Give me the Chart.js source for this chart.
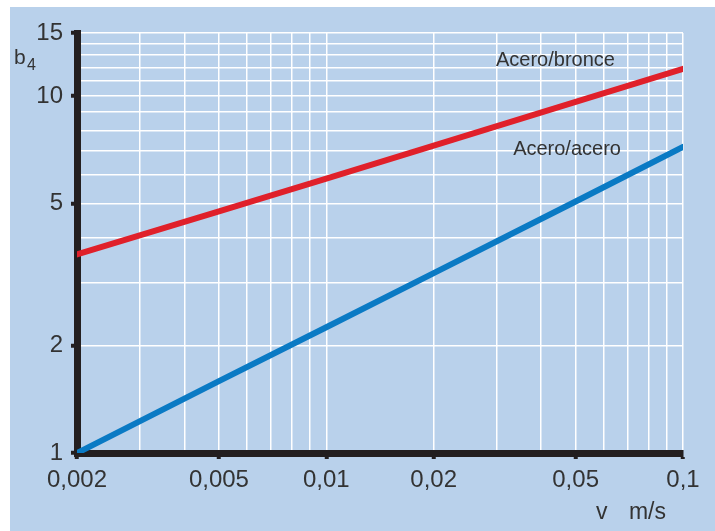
<!DOCTYPE html>
<html>
<head>
<meta charset="utf-8">
<script src="https://cdn.jsdelivr.net/npm/chart.js@4/dist/chart.umd.min.js"></script>
<style>
  html, body { margin: 0; padding: 0; background: #fff; }
  #wrap { width: 715px; height: 531px; }
</style>
</head>
<body>
<div id="wrap"><canvas id="chart" width="715" height="531"></canvas></div>
<script>
// b4 factor vs sliding speed, log-log
const speeds = [0.002, 0.005, 0.01, 0.02, 0.05, 0.1];
const aceroBronce = [3.6, 4.75, 5.87, 7.26, 9.62, 11.9];
const aceroAcero = [1.0, 1.59, 2.25, 3.19, 5.06, 7.2];

const xGrid = [0.002, 0.003, 0.004, 0.005, 0.006, 0.007, 0.008, 0.009, 0.01,
               0.02, 0.03, 0.04, 0.05, 0.06, 0.07, 0.08, 0.09, 0.1];
const xLabels = [0.002, 0.005, 0.01, 0.02, 0.05, 0.1];
const yGrid = [1, 2, 3, 4, 5, 6, 7, 8, 9, 10, 11, 12, 13, 14, 15];
const yLabels = [1, 2, 5, 10, 15];

const BG = '#b9d1eb';
const INK = '#333333';
const FONT = "'Liberation Sans', Arial, sans-serif";

const toPts = (ys) => speeds.map((x, i) => ({ x: x, y: ys[i] }));

// blue panel behind the plot + free text
const panel = {
  id: 'panel',
  beforeDraw(chart) {
    const ctx = chart.ctx;
    ctx.save();
    ctx.fillStyle = BG;
    ctx.fillRect(10, 7, chart.width - 10, chart.height - 7);
    ctx.restore();
  },
  afterDraw(chart) {
    const { ctx, chartArea, scales } = chart;
    ctx.save();
    ctx.fillStyle = INK;
    ctx.textBaseline = 'middle';
    ctx.textAlign = 'left';
    ctx.font = '20px ' + FONT;
    ctx.fillText('Acero/bronce', scales.x.getPixelForValue(0.0299), scales.y.getPixelForValue(12.6));
    ctx.fillText('Acero/acero', scales.x.getPixelForValue(0.0334), scales.y.getPixelForValue(7.06));

    // axis titles
    ctx.font = '21px ' + FONT;
    ctx.textBaseline = 'alphabetic';
    ctx.fillText('b', chartArea.left - 63, chartArea.top + 31);
    ctx.font = '16px ' + FONT;
    ctx.fillText('4', chartArea.left - 50, chartArea.top + 37);
    ctx.font = '23px ' + FONT;
    ctx.fillText('v', chartArea.right - 87, chartArea.bottom + 66);
    ctx.textAlign = 'right';
    ctx.fillText('m/s', chartArea.right - 17, chartArea.bottom + 66);
    ctx.restore();
  }
};

const fmt = (v) => String(v).replace('.', ',');

new Chart(document.getElementById('chart'), {
  type: 'line',
  data: {
    datasets: [
      {
        label: 'Acero/bronce',
        data: toPts(aceroBronce),
        borderColor: '#e0202a',
        borderWidth: 6,
        pointRadius: 0,
        borderCapStyle: 'round'
      },
      {
        label: 'Acero/acero',
        data: toPts(aceroAcero),
        borderColor: '#0a7ac4',
        borderWidth: 6,
        pointRadius: 0,
        borderCapStyle: 'round'
      }
    ]
  },
  options: {
    responsive: false,
    animation: false,
    layout: { padding: { left: 0, top: 33, right: 32, bottom: 0 } },
    plugins: { legend: { display: false }, tooltip: { enabled: false } },
    scales: {
      x: {
        type: 'logarithmic',
        min: 0.002,
        max: 0.1,
        afterBuildTicks(scale) { scale.ticks = xGrid.map(v => ({ value: v })); },
        afterFit(scale) { scale.height = 78; },
        border: { display: true, color: '#231f20', width: 7 },
        grid: {
          color: (c) => c.tick && c.tick.value === 0.002 ? 'rgba(0,0,0,0)' : '#ffffff',
          lineWidth: 1.5,
          tickLength: 6,
          tickWidth: 4,
          tickColor: (c) => c.tick && xLabels.includes(c.tick.value) ? '#231f20' : 'rgba(0,0,0,0)'
        },
        ticks: {
          autoSkip: false,
          maxRotation: 0,
          padding: 7,
          color: INK,
          font: { family: FONT, size: 24 },
          callback: (v) => xLabels.includes(v) ? fmt(v) : ''
        }
      },
      y: {
        type: 'logarithmic',
        min: 1,
        max: 15,
        afterBuildTicks(scale) { scale.ticks = yGrid.map(v => ({ value: v })); },
        afterFit(scale) { scale.width = 77; },
        border: { display: true, color: '#231f20', width: 7 },
        grid: {
          color: (c) => c.tick && c.tick.value === 1 ? 'rgba(0,0,0,0)' : '#ffffff',
          lineWidth: 1.5,
          tickLength: 6,
          tickWidth: 4,
          tickColor: (c) => c.tick && yLabels.includes(c.tick.value) ? '#231f20' : 'rgba(0,0,0,0)'
        },
        ticks: {
          autoSkip: false,
          padding: 8,
          color: INK,
          font: { family: FONT, size: 24 },
          callback: (v) => yLabels.includes(v) ? String(v) : ''
        }
      }
    }
  },
  plugins: [panel]
});
</script>
</body>
</html>
